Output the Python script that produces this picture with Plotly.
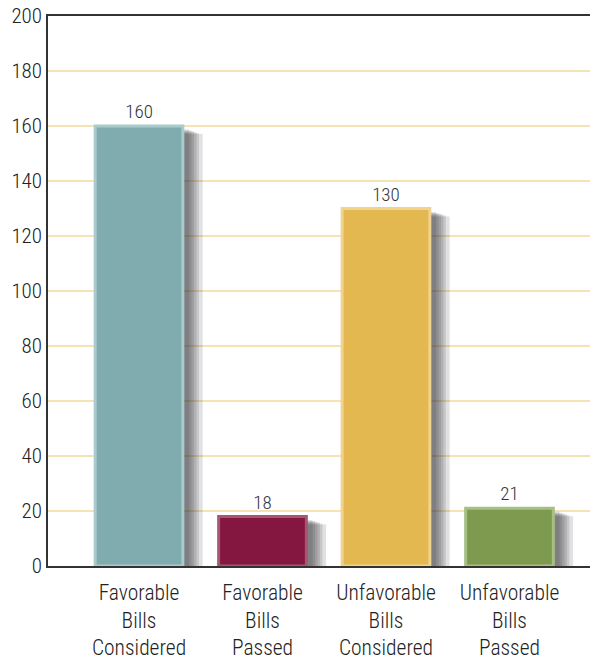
import plotly.graph_objects as go

categories = ["Favorable<br>Bills<br>Considered", "Favorable<br>Bills<br>Passed",
              "Unfavorable<br>Bills<br>Considered", "Unfavorable<br>Bills<br>Passed"]
values = [160, 18, 130, 21]
bar_colors = ["#80acaf", "#84173f", "#e4b850", "#7e9a4f"]
edge_colors = ["#a9cbcb", "#a85574", "#f0d38e", "#a6bf85"]
tick_vals = [0, 20, 40, 60, 80, 100, 120, 140, 160, 180, 200]

FONT = "Roboto Condensed, Liberation Sans Narrow, DejaVu Sans Condensed, sans-serif"
BW = 0.71
x_idx = list(range(len(categories)))

fig = go.Figure()

# soft blurred shadows (right and below)
for ext in [0.13, 0.10, 0.08, 0.06, 0.04, 0.02]:
    top_drop = 1.0 + ext * 15
    base = -0.5 - ext * 22
    fig.add_trace(go.Bar(
        x=x_idx, y=[v - top_drop - base for v in values], base=base,
        width=BW + ext, offset=-BW / 2 + 0.03,
        marker=dict(color="rgba(40,40,50,0.14)", line=dict(width=0)),
        hoverinfo="skip", showlegend=False))

fig.add_trace(go.Bar(
    x=x_idx, y=values, width=BW, offset=-BW / 2,
    marker=dict(color=bar_colors, line=dict(color=edge_colors, width=3)),
    text=[str(v) for v in values], textposition="outside",
    textfont=dict(family=FONT, size=19, color="#333333", weight=300),
    cliponaxis=False, showlegend=False))

fig.update_layout(
    width=590, height=659,
    margin=dict(l=48, r=0, t=16, b=93),
    barmode="overlay",
    plot_bgcolor="white", paper_bgcolor="white",
    font=dict(family=FONT, size=19, color="#222222", weight=300),
    xaxis=dict(
        tickmode="array", tickvals=x_idx, ticktext=categories,
        range=[-0.737, 3.652], showline=True, mirror=True,
        linecolor="#333333", linewidth=1.5, showgrid=False, ticks="",
        ticklabelstandoff=6,
        tickfont=dict(family=FONT, size=21.5, color="#222222", weight=300), zeroline=False),
    yaxis=dict(
        range=[0, 200], tickvals=tick_vals, showline=True, linecolor="#333333",
        linewidth=1.5, gridcolor="#f5e2b5", gridwidth=1.5, ticks="", zeroline=False,
        tickfont=dict(family=FONT, size=21, color="#222222", weight=300)),
)

fig.write_html("out.html")
